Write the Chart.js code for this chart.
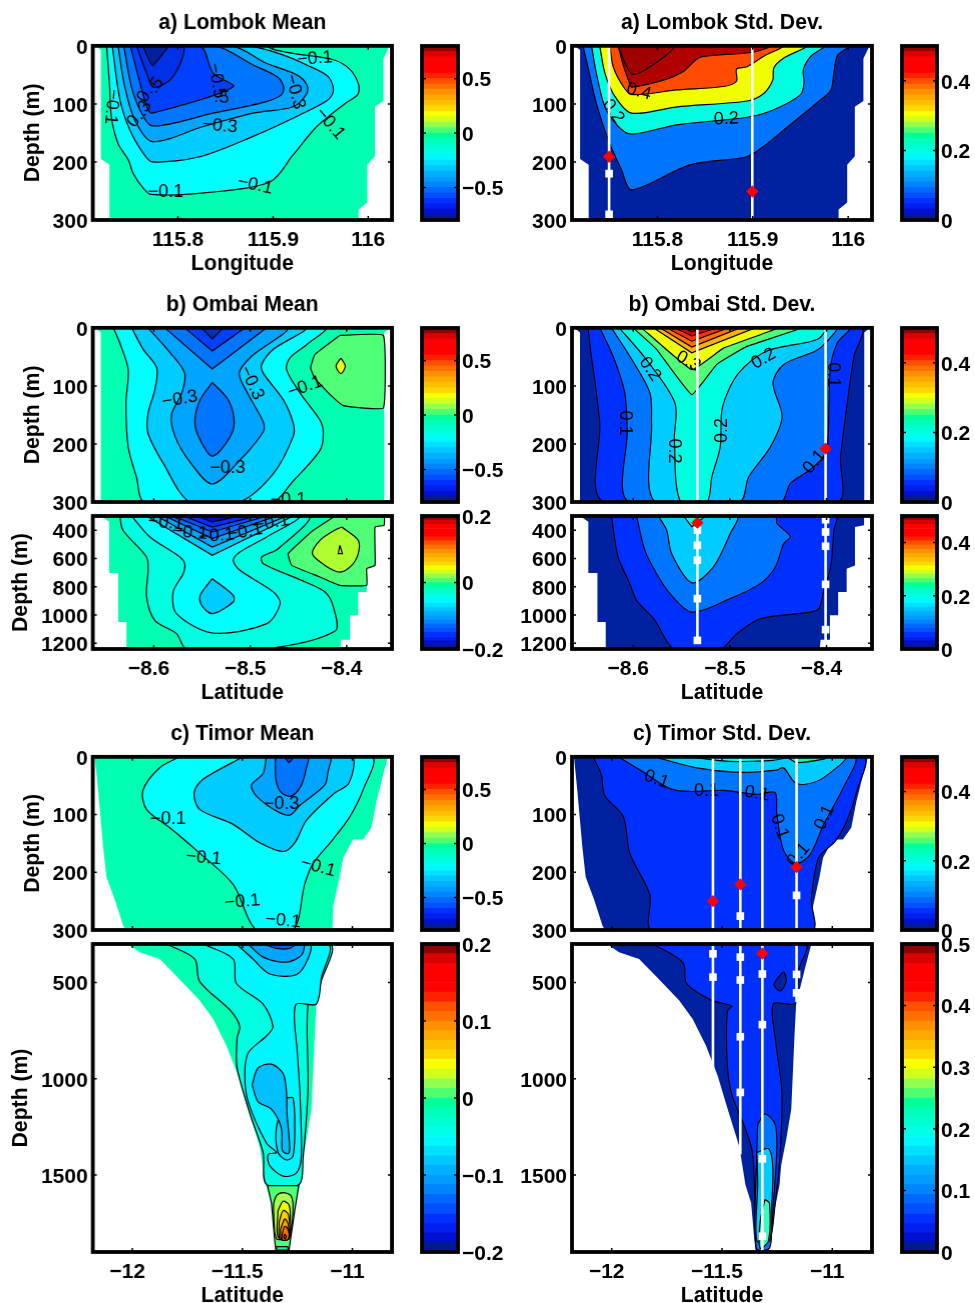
<!DOCTYPE html>
<html>
<head>
<meta charset="utf-8">
<title>Transport sections</title>
<script src="https://cdn.jsdelivr.net/npm/chart.js@4"></script>
<style>
html, body { margin: 0; background: #fff; overflow: hidden; }
canvas { position: absolute; }
</style>
</head>
<body>
<script>
// ---- tick values
const depthTicks = [0, 100, 200, 300];
const ombaiDeepTicks = [400, 600, 800, 1000, 1200];
const timorDeepTicks = [500, 1000, 1500];
const lonTicks = [115.8, 115.9, 116];
const ombaiLatTicks = [-8.6, -8.5, -8.4];
const timorLatTicks = [-12, -11.5, -11];
const meanCbarTicks = [-0.5, 0, 0.5];
const stdCbarTicks = [0, 0.2, 0.4];
const deepMeanCbarTicks = [-0.2, 0, 0.2];
const timorDeepMeanCbarTicks = [-0.2, -0.1, 0, 0.1, 0.2];
const timorDeepStdCbarTicks = [0, 0.1, 0.2, 0.3, 0.4, 0.5];

// colorbar steps, bottom to top
const cbarColors = ['#001a90','#0010d0','#0020f0','#0030ff','#0050ff','#0068ff','#0085ff','#009cff',
  '#00b0ff','#00c8ff','#00e0ff','#00f8ff','#00ffe8','#00ffd0','#00ffb8','#00ff98',
  '#50ff70','#90ff50','#d0ff20','#f8ff00','#ffd800','#ffc000','#ffa800','#ff9000',
  '#ff7000','#ff5000','#ff2000','#ff0000','#ff0000','#ff0000','#d80000','#900000'];

// ---- section outlines (longitude or latitude, depth)
const lombokOutline = [[115.713,0],[115.719,7],[115.719,195],[115.728,205],[115.728,300],[115.99,300],[115.99,282],[115.999,270],[115.999,205],[116.007,190],[116.007,105],[116.016,95],[116.016,22],[116.0225,0]];
const ombaiOutline = [[-8.661,0],[-8.655,8],[-8.655,300],[-8.361,300],[-8.361,8],[-8.355,0]];
const ombaiDeepOutline = [[-8.655,300],[-8.6464,340],[-8.6464,703],[-8.637,703],[-8.637,1049],[-8.6284,1049],[-8.6284,1240],[-8.407,1240],[-8.4062,1174],[-8.3965,1174],[-8.3965,1002],[-8.388,1002],[-8.388,837],[-8.3792,837],[-8.3792,672],[-8.3706,649],[-8.3706,378],[-8.3612,366],[-8.3612,300]];
const timorOutline = [[-12.171,0],[-12.156,58],[-12.133,156],[-12.118,208],[-12.08,247],[-12.042,292],[-12.03,300],[-11.091,300],[-11.088,260],[-11.058,208],[-11.042,175],[-10.997,143],[-10.952,143],[-10.914,123],[-10.891,78],[-10.861,32],[-10.838,0]];
const timorDeepOutline = [[-12.02,300],[-11.967,343],[-11.876,378],[-11.8,466],[-11.694,593],[-11.633,690],[-11.573,827],[-11.52,983],[-11.474,1158],[-11.421,1354],[-11.394,1549],[-11.368,1646],[-11.353,1841],[-11.348,1890],[-11.288,1890],[-11.282,1841],[-11.262,1685],[-11.239,1549],[-11.232,1451],[-11.209,1315],[-11.186,1158],[-11.171,768],[-11.164,612],[-11.126,437],[-11.095,300]];

// ---- a) Lombok mean
const lm1 = [[115.725,0],[115.728,64],[115.73,122],[115.737,168],[115.748,197],[115.753,220],[115.7635,245],[115.772,256],[115.83,253],[115.897,234],[115.921,188],[115.946,139],[115.976,99],[115.989,84],[115.99,67],[115.981,41],[115.9635,24],[115.921,13],[115.9,6],[115.8915,0]];
const lm2 = [[115.731,0],[115.739,93],[115.7495,145],[115.7635,185],[115.773,200],[115.823,191],[115.879,156],[115.928,119],[115.958,93],[115.9635,76],[115.958,53],[115.9355,33],[115.911,16],[115.874,0]];
const lm3 = [[115.737,0],[115.744,70],[115.7547,128],[115.773,165],[115.8266,139],[115.879,116],[115.921,105],[115.9355,82],[115.9355,67],[115.925,50],[115.893,30],[115.8565,0]];
const lm4 = [[115.743,0],[115.751,70],[115.76,110],[115.773,138],[115.837,116],[115.893,96],[115.909,84],[115.911,70],[115.904,53],[115.879,33],[115.839,0]];
const lm5 = [[115.75,0],[115.762,76],[115.7685,110],[115.773,116],[115.858,71],[115.837,47],[115.823,0]];
const lm6 = [[115.7565,0],[115.767,47],[115.774,71],[115.7915,59],[115.804,24],[115.805,0]];
const lm7 = [[115.763,0],[115.773,34],[115.79,0]];
const lmLabels = [[115.944,22,'−0.1',-5],[115.7767,68,'.5',-55],[115.7656,84,'0.',-60],[115.7642,108,'.3',-60],[115.7552,127,'0.',-50],[115.7302,105,'−0.1',95],[115.8407,60,'−0.5',80],[115.846,89,'.5',5],[115.923,79,'−0.3',75],[115.844,138,'−0.3',5],[115.96,134,'−0.1',50],[115.881,240,'−0.1',12],[115.787,251,'−0.1',0]];

// ---- a) Lombok std
const ls1 = [[115.722,0],[115.7274,38],[115.736,99],[115.7485,162],[115.7625,214],[115.773,248],[115.834,205],[115.894,191],[115.9115,173],[115.9325,145],[115.9712,93],[115.982,76],[115.985,47],[115.989,16],[116.001,0]];
const ls2 = [[115.731,0],[115.736,47],[115.745,105],[115.759,139],[115.773,152],[115.8205,136],[115.894,123],[115.922,110],[115.95,84],[115.9537,64],[115.953,41],[115.9607,18],[115.9747,0]];
const ls3 = [[115.7396,0],[115.745,47],[115.7555,87],[115.773,116],[115.8205,105],[115.894,95],[115.9115,82],[115.921,59],[115.922,38],[115.9325,21],[115.9555,0]];
const ls4 = [[115.7502,0],[115.7537,36],[115.7642,70],[115.773,84],[115.8205,76],[115.8695,70],[115.883,61],[115.883,40],[115.894,36],[115.9115,18],[115.9307,0]];
const ls5 = [[115.7589,0],[115.7642,33],[115.771,65],[115.773,71],[115.8063,59],[115.8273,44],[115.8431,21],[115.862,16],[115.9,11],[115.918,0]];
const ls6 = [[115.7589,0],[115.773,48],[115.7925,36],[115.817,0]];
const lsLabels = [[115.7807,79,'0.4',15],[115.7537,113,'0.2',55],[115.8722,126,'0.2',-2]];
const lsMoorings = [[115.7494,0,300],[115.8995,0,300]];
const lsSquares = [[115.7494,220],[115.7494,290]];
const lsDiamonds = [[115.7494,191],[115.8995,251]];

// ---- b) Ombai mean, upper
const om0 = [[-8.407,13],[-8.362,13],[-8.362,138],[-8.4035,134],[-8.419,112],[-8.433,87],[-8.4374,69],[-8.433,46]];
const omSpot = [[-8.406,52],[-8.4014,66],[-8.406,79],[-8.411,66]];
const om1 = [[-8.642,0],[-8.6353,26],[-8.6266,72],[-8.629,130],[-8.6266,205],[-8.618,257],[-8.6093,300],[-8.478,300],[-8.455,263],[-8.4277,211],[-8.4242,182],[-8.4277,159],[-8.4484,112],[-8.4623,72],[-8.459,52],[-8.4415,29],[-8.4225,0]];
const om2 = [[-8.623,0],[-8.611,37],[-8.597,69],[-8.599,107],[-8.606,147],[-8.606,182],[-8.59,234],[-8.5626,300],[-8.5114,300],[-8.476,251],[-8.4554,187],[-8.4554,164],[-8.4657,124],[-8.4865,78],[-8.488,63],[-8.476,37],[-8.4433,0]];
const om3 = [[-8.606,0],[-8.583,43],[-8.568,78],[-8.571,112],[-8.5817,150],[-8.578,187],[-8.5626,231],[-8.5394,269],[-8.5107,228],[-8.4865,179],[-8.4865,162],[-8.502,115],[-8.5114,78],[-8.4986,49],[-8.4623,0]];
const om4 = [[-8.5886,0],[-8.5394,71],[-8.483,0]];
const omDrop = [[-8.5394,94],[-8.552,124],[-8.5575,162],[-8.552,193],[-8.5394,221],[-8.5228,193],[-8.5166,164],[-8.5228,124]];
const om5 = [[-8.568,0],[-8.5394,40],[-8.5055,0]];
const om6 = [[-8.5505,0],[-8.5394,19],[-8.528,0]];
const omLabels = [[-8.573,123,'−0.3',-10],[-8.4986,95,'−0.3',65],[-8.4433,102,'−0.1',-20],[-8.5235,241,'−0.3',0],[-8.4605,296,'−0.1',0]];

// ---- b) Ombai mean, deep
const od0 = [[-8.412,300],[-8.4346,401],[-8.4606,566],[-8.457,649],[-8.4277,731],[-8.407,790],[-8.3792,790],[-8.3792,672],[-8.3706,649],[-8.3706,378],[-8.3612,366],[-8.3612,300]];
const odWarm = [[-8.4052,378],[-8.388,472],[-8.388,566],[-8.3948,649],[-8.407,696],[-8.4225,649],[-8.4356,566],[-8.4277,472],[-8.4138,406]];
const odSpot = [[-8.407,507],[-8.4045,566],[-8.4087,566]];
const od1 = [[-8.6353,300],[-8.632,401],[-8.6076,590],[-8.606,684],[-8.6076,872],[-8.599,1037],[-8.5765,1131],[-8.566,1240],[-8.4848,1240],[-8.412,1113],[-8.4138,943],[-8.4225,837],[-8.4467,755],[-8.4865,637],[-8.488,590],[-8.471,531],[-8.44,300]];
const od2 = [[-8.623,300],[-8.604,448],[-8.573,590],[-8.568,637],[-8.5696,708],[-8.58,837],[-8.5765,990],[-8.5394,1127],[-8.483,1061],[-8.469,920],[-8.476,837],[-8.5107,684],[-8.5176,613],[-8.5107,554],[-8.483,448],[-8.45,300]];
const odBlob = [[-8.5394,743],[-8.5176,861],[-8.5176,908],[-8.5394,990],[-8.5505,931],[-8.552,861]];
const odFan1 = [[-8.6076,300],[-8.5394,578],[-8.4554,300]];
const odFan2 = [[-8.597,300],[-8.5394,519],[-8.4623,300]];
const odFan3 = [[-8.5886,300],[-8.5394,460],[-8.4727,300]];
const odFan4 = [[-8.58,300],[-8.5394,413],[-8.483,300]];
const odFan5 = [[-8.5696,300],[-8.5394,378],[-8.4934,300]];
const odFan6 = [[-8.5557,300],[-8.5394,342],[-8.5107,300]];
const odLabels = [[-8.5875,349,'−0.1',5],[-8.5626,418,'−0.1',5],[-8.535,441,'−0.1',-5],[-8.5055,413,'−0.1',-10],[-8.478,349,'−0.1',-10]];

// ---- b) Ombai std, upper
const os1 = [[-8.6467,0],[-8.6433,49],[-8.6398,89],[-8.6346,164],[-8.6301,300],[-8.3889,300],[-8.3855,222],[-8.3768,107],[-8.3716,49],[-8.3647,0]];
const os2 = [[-8.6346,0],[-8.6208,49],[-8.6087,112],[-8.6062,176],[-8.6042,300],[-8.4478,300],[-8.4374,268],[-8.42,248],[-8.4062,228],[-8.3993,205],[-8.3976,136],[-8.3958,66],[-8.3889,26],[-8.3768,0]];
const os3 = [[-8.6225,0],[-8.6035,49],[-8.5827,112],[-8.581,164],[-8.5775,300],[-8.49,300],[-8.4806,257],[-8.4581,205],[-8.446,153],[-8.4554,95],[-8.4443,63],[-8.4114,40],[-8.401,26],[-8.3907,0]];
const os4 = [[-8.6145,0],[-8.5862,55],[-8.5567,130],[-8.5574,193],[-8.5509,300],[-8.5239,300],[-8.5187,257],[-8.51,205],[-8.5076,136],[-8.491,78],[-8.4616,40],[-8.4097,20],[-8.4017,0]];
const os5 = [[-8.6,0],[-8.5758,37],[-8.5394,115],[-8.5135,63],[-8.4824,32],[-8.427,0]];
const os6 = [[-8.5913,0],[-8.5394,72],[-8.5066,35],[-8.4512,0]];
const os7 = [[-8.5792,0],[-8.5394,43],[-8.4737,0]];
const os8 = [[-8.5723,0],[-8.5394,33],[-8.4893,0]];
const os9 = [[-8.5654,0],[-8.5394,23],[-8.5014,0]];
const os10 = [[-8.5567,0],[-8.5394,14],[-8.5135,0]];
const os11 = [[-8.548,0],[-8.5394,7],[-8.5256,0]];
const osLabels = [[-8.5429,58,'0.3',30],[-8.5827,71,'0.2',55],[-8.465,53,'0.2',-30],[-8.3934,81,'0.1',90],[-8.6087,164,'0.1',90],[-8.5083,177,'0.2',-90],[-8.5578,212,'0.2',90],[-8.4125,231,'0.1',-50]];
const osMoorings = [[-8.5336,0,300],[-8.401,0,300]];
const osDiamonds = [[-8.401,208]];

// ---- b) Ombai std, deep
const ob1 = [[-8.6225,300],[-8.6156,590],[-8.6035,778],[-8.5965,896],[-8.5775,1037],[-8.5578,1240],[-8.51,1240],[-8.4927,1132],[-8.4685,1026],[-8.4166,979],[-8.408,955],[-8.4028,825],[-8.3958,660],[-8.3924,401],[-8.3907,300]];
const ob2 = [[-8.5965,300],[-8.5879,543],[-8.5758,708],[-8.5619,849],[-8.5394,979],[-8.4997,884],[-8.4685,778],[-8.453,660],[-8.4443,496],[-8.4374,444],[-8.4512,354],[-8.453,300]];
const ob3 = [[-8.574,300],[-8.5654,401],[-8.5602,566],[-8.5394,771],[-8.517,660],[-8.4997,425],[-8.4927,300]];
const ob4 = [[-8.548,300],[-8.5394,375],[-8.525,300]];
const obMoorings = [[-8.5336,300,1179],[-8.401,300,1202]];
const obSquares = [[-8.5336,401],[-8.5336,507],[-8.5336,613],[-8.5336,884],[-8.5336,1179],[-8.401,326],[-8.401,413],[-8.401,514],[-8.401,783],[-8.401,1103]];
const obDiamonds = [[-8.5336,347]];

// ---- c) Timor mean, upper
const tm1 = [[-11.785,0],[-11.876,19],[-11.952,58],[-11.936,91],[-11.83,123],[-11.709,162],[-11.542,221],[-11.436,300],[-11.27,300],[-11.217,221],[-11.179,185],[-11.088,143],[-11.012,104],[-10.952,58],[-10.914,0]];
const tm2 = [[-11.497,0],[-11.679,39],[-11.72,62],[-11.694,91],[-11.542,117],[-11.421,149],[-11.315,164],[-11.262,149],[-11.209,110],[-11.088,65],[-11.015,45],[-11.005,0]];
const tm3 = [[-11.391,0],[-11.406,29],[-11.459,49],[-11.436,68],[-11.345,94],[-11.285,101],[-11.239,84],[-11.126,49],[-11.111,26],[-11.103,0]];
const tm4 = [[-11.35,0],[-11.348,39],[-11.323,62],[-11.277,68],[-11.232,49],[-11.209,19],[-11.202,0]];
const tm5 = [[-11.308,0],[-11.288,10],[-11.267,0]];
const tmLabels = [[-11.838,107,'−0.1',0],[-11.676,175,'−0.1',5],[-11.5,251,'−0.1',-5],[-11.315,284,'−0.1',5],[-11.156,191,'−0.1',15],[-11.323,81,'−0.3',0]];

// ---- c) Timor mean, deep
const td1 = [[-11.845,300],[-11.717,378],[-11.694,495],[-11.55,651],[-11.512,729],[-11.524,788],[-11.524,944],[-11.467,1178],[-11.406,1383],[-11.391,1549],[-11.242,1549],[-11.224,1412],[-11.202,1061],[-11.202,616],[-11.164,612],[-11.148,515],[-11.103,300]];
const td2 = [[-11.679,300],[-11.542,378],[-11.527,505],[-11.406,612],[-11.361,729],[-11.391,778],[-11.474,866],[-11.489,983],[-11.474,1119],[-11.391,1334],[-11.345,1383],[-11.383,1393],[-11.376,1451],[-11.315,1506],[-11.255,1490],[-11.232,1402],[-11.239,1061],[-11.25,866],[-11.258,616],[-11.164,612],[-11.141,476],[-11.111,300]];
const td3 = [[-11.3,1100],[-11.345,1250],[-11.338,1383],[-11.3,1422],[-11.27,1402],[-11.262,1256],[-11.27,1100]];
const td4 = [[-11.456,1032],[-11.429,944],[-11.368,924],[-11.315,973],[-11.3,1061],[-11.297,1178],[-11.285,1354],[-11.292,1389],[-11.318,1373],[-11.323,1256],[-11.368,1158],[-11.429,1119]];
const td5 = [[-11.527,300],[-11.452,378],[-11.376,456],[-11.255,460],[-11.202,378],[-11.194,300]];
const td6 = [[-11.474,300],[-11.406,368],[-11.3,394],[-11.232,359],[-11.224,300]];
const td7 = [[-11.406,300],[-11.345,323],[-11.285,323],[-11.262,300]];
const tipBase = [[-11.386,1555],[-11.244,1555],[-11.262,1685],[-11.282,1841],[-11.288,1890],[-11.348,1890],[-11.353,1841],[-11.368,1646]];
const tip1 = [[-11.358,1646],[-11.345,1607],[-11.315,1592],[-11.28,1607],[-11.27,1666],[-11.285,1812],[-11.345,1831],[-11.358,1685]];
const tip2 = [[-11.338,1685],[-11.315,1636],[-11.288,1656],[-11.282,1724],[-11.285,1822],[-11.338,1822]];
const tip3 = [[-11.333,1744],[-11.315,1685],[-11.291,1705],[-11.288,1832],[-11.33,1832]];
const tip4 = [[-11.327,1783],[-11.308,1728],[-11.292,1754],[-11.291,1832],[-11.323,1832]];
const tip5 = [[-11.32,1812],[-11.308,1767],[-11.292,1783],[-11.291,1832],[-11.318,1838]];
const tip6 = [[-11.312,1820],[-11.308,1808],[-11.3,1820],[-11.308,1832]];
const tipFoot = [[-11.345,1872],[-11.295,1872],[-11.29,1890],[-11.345,1890]];

// ---- c) Timor std, upper
const ts1 = [[-12.085,0],[-12.047,31],[-12.032,67],[-11.948,103],[-11.918,167],[-11.827,239],[-11.817,300],[-11.092,300],[-11.095,247],[-11.062,175],[-10.986,146],[-10.933,110],[-10.888,58],[-10.861,0]];
const ts2 = [[-11.971,0],[-11.858,26],[-11.736,55],[-11.645,60],[-11.494,58],[-11.342,65],[-11.259,62],[-11.252,97],[-11.221,162],[-11.164,185],[-11.1,169],[-11.039,117],[-10.948,52],[-10.903,0]];
const ts3 = [[-11.805,0],[-11.615,19],[-11.418,27],[-11.252,23],[-11.221,19],[-11.168,45],[-11.115,47],[-11.039,36],[-10.945,0]];
const ts4 = [[-11.645,0],[-11.464,8],[-11.267,6],[-11.198,0]];
const ts5 = [[-11.206,0],[-11.161,10],[-11.039,4],[-11.024,0]];
const tsLabels = [[-11.797,39,'0.1',20],[-11.57,60,'0.1',0],[-11.342,64,'0.1',10],[-11.239,121,'0.1',70],[-11.153,170,'0.1',-50],[-11.035,105,'0.1',-65]];
const tsMoorings = [[-11.541,0,300],[-11.417,0,300],[-11.317,0,300],[-11.162,0,300]];
const tsSquares = [[-11.417,276],[-11.162,240]];
const tsDiamonds = [[-11.541,250],[-11.417,221],[-11.162,191]];

// ---- c) Timor std, deep
const tb1 = [[-11.812,300],[-11.676,398],[-11.661,505],[-11.547,593],[-11.456,622],[-11.476,651],[-11.476,924],[-11.456,1080],[-11.395,1256],[-11.362,1383],[-11.35,1646],[-11.342,1841],[-11.285,1841],[-11.259,1646],[-11.236,1383],[-11.229,1061],[-11.259,788],[-11.267,612],[-11.168,608],[-11.153,437],[-11.123,300]];
const tbPatch = [[-11.259,495],[-11.221,446],[-11.209,495],[-11.236,544],[-11.264,515]];
const tb2 = [[-11.338,1237],[-11.305,1182],[-11.259,1237],[-11.252,1383],[-11.274,1744],[-11.285,1880],[-11.345,1880],[-11.342,1383]];
const tb3 = [[-11.342,1383],[-11.289,1363],[-11.27,1451],[-11.274,1646],[-11.285,1841],[-11.342,1841],[-11.338,1549]];
const tb4 = [[-11.305,1627],[-11.285,1646],[-11.289,1841],[-11.327,1880],[-11.327,1744]];
const tbMoorings = [[-11.541,300,963],[-11.417,300,1393],[-11.317,300,1900],[-11.162,300,602]];
const tbSquares = [[-11.541,351],[-11.541,472],[-11.417,368],[-11.417,487],[-11.417,782],[-11.417,1071],[-11.317,456],[-11.317,719],[-11.317,1416],[-11.317,1818],[-11.162,458],[-11.162,554]];
const tbDiamonds = [[-11.317,349]];

// ---- band colours
const navy = '#0022a0', royal = '#0030ff', azure = '#0075ff', sky = '#00a5ff', light = '#00ccff';
const cyan = '#00ffff', aqua = '#00ffe0', spring = '#00ffb0', green = '#50ff78';

const FONT = 'Liberation Sans';

function tickText(v) { return String(v).replace('-', '−'); }

// fills the closed contour polygons, the library's line element gives the path
const contourFill = {
  id: 'contourFill',
  beforeDatasetDraw(chart, args) {
    const ds = chart.data.datasets[args.index];
    if (!ds.bandFill) return;
    const ctx = chart.ctx, a = chart.chartArea;
    ctx.save();
    ctx.beginPath();
    ctx.rect(a.left, a.top, a.width, a.height);
    ctx.clip();
    ctx.beginPath();
    args.meta.dataset.path(ctx);
    ctx.closePath();
    ctx.fillStyle = ds.bandFill;
    ctx.fill();
    ctx.restore();
  },
  afterDatasetDraw(chart, args) {
    const ds = chart.data.datasets[args.index];
    if (!ds.contourLabels) return;
    const ctx = chart.ctx, a = chart.chartArea;
    ctx.save();
    ctx.beginPath();
    ctx.rect(a.left, a.top, a.width, a.height);
    ctx.clip();
    ctx.fillStyle = '#000';
    ctx.font = '18px "' + FONT + '"';
    ctx.textAlign = 'center';
    ctx.textBaseline = 'middle';
    ds.contourLabels.forEach(([x, y, text, angle]) => {
      ctx.save();
      ctx.translate(chart.scales.x.getPixelForValue(x), chart.scales.y.getPixelForValue(y));
      ctx.rotate(angle * Math.PI / 180);
      ctx.fillText(text, 0, 0);
      ctx.restore();
    });
    ctx.restore();
  }
};

// thick box and the small inward ticks
const heavyFrame = {
  id: 'heavyFrame',
  afterDraw(chart, args, opts) {
    const ctx = chart.ctx, a = chart.chartArea;
    ctx.save();
    ctx.strokeStyle = '#000';
    ctx.lineWidth = 1.5;
    (opts.xTicks || []).forEach(v => {
      const px = chart.scales.x.getPixelForValue(v);
      ctx.beginPath();
      ctx.moveTo(px, a.top); ctx.lineTo(px, a.top + 4);
      ctx.moveTo(px, a.bottom); ctx.lineTo(px, a.bottom - 4);
      ctx.stroke();
    });
    (opts.yTicks || []).forEach(v => {
      const py = chart.scales.y.getPixelForValue(v);
      ctx.beginPath();
      ctx.moveTo(a.left, py); ctx.lineTo(a.left + 4, py);
      ctx.moveTo(a.right, py); ctx.lineTo(a.right - 4, py);
      ctx.stroke();
    });
    ctx.lineWidth = 3.8;
    ctx.strokeRect(a.left, a.top, a.width, a.height);
    ctx.restore();
  }
};

function addCanvas(left, top, width, height) {
  const c = document.createElement('canvas');
  c.width = width; c.height = height;
  c.style.left = left + 'px'; c.style.top = top + 'px';
  c.style.width = width + 'px'; c.style.height = height + 'px';
  document.body.appendChild(c);
  return c;
}

function xy(pts) { return pts.map(([x, y]) => ({x, y})); }

function section(o) {
  const [x0, y0, x1, y1] = o.box;
  const topH = o.title ? 36 : 18;
  const bottomH = o.xLabel ? 57 : 18;
  const canvas = addCanvas(x0 - o.axisW, y0 - topH, o.axisW + (x1 - x0) + 24, topH + (y1 - y0) + bottomH);
  const datasets = [];
  o.bands.forEach(([pts, fill, tension], i) => {
    datasets.push({
      data: xy(pts.concat([pts[0]])), showLine: true, bandFill: fill,
      borderColor: '#000', borderWidth: i === 0 ? 0 : 1.2,
      pointRadius: 0, tension: tension === undefined ? 0.3 : tension, order: -i
    });
  });
  datasets.push({data: [], contourLabels: o.labels || [], order: -1000});
  (o.moorings || []).forEach(([x, top, bottom]) => {
    datasets.push({data: xy([[x, top], [x, bottom]]), showLine: true, borderColor: '#fff', borderWidth: 2.6, pointRadius: 0, order: -1001});
  });
  if (o.squares) datasets.push({data: xy(o.squares), showLine: false, pointStyle: 'rect', pointRadius: 5.4, backgroundColor: '#fff', borderWidth: 0, order: -1002});
  if (o.diamonds) datasets.push({data: xy(o.diamonds), showLine: false, pointStyle: 'rectRot', pointRadius: 6.2, backgroundColor: '#f00', borderWidth: 0, order: -1003});

  new Chart(canvas, {
    type: 'scatter',
    data: {datasets},
    plugins: [contourFill, heavyFrame],
    options: {
      responsive: false, animation: false, events: [], devicePixelRatio: 1,
      layout: {padding: {top: o.title ? 0 : 18, right: 24, bottom: o.xLabel ? 0 : 18, left: 0}},
      plugins: {
        legend: {display: false},
        tooltip: {enabled: false},
        title: {display: !!o.title, text: o.title, fullSize: false, color: '#000', padding: {top: 0, bottom: 10.4},
          font: {family: FONT, size: 21.2, weight: 'bold'}},
        heavyFrame: {xTicks: o.xTicks, yTicks: o.yTicks}
      },
      scales: {
        x: {
          type: 'linear', min: o.xRange[0], max: o.xRange[1], display: !!o.xLabel,
          grid: {display: false, drawTicks: false}, border: {display: false},
          afterFit: s => { s.height = o.xLabel ? 57 : 0; },
          afterBuildTicks: s => { s.ticks = o.xTicks.map(value => ({value})); },
          ticks: {color: '#000', padding: 8, labelOffset: o.xTicks[0] < 0 ? -5 : 0, autoSkip: false, maxRotation: 0, font: {family: FONT, size: 21, weight: 'bold'}, callback: tickText},
          title: {display: !!o.xLabel, text: o.xLabel, color: '#000', padding: 0, font: {family: FONT, size: 21.2, weight: 'bold'}}
        },
        y: {
          type: 'linear', reverse: true, min: o.yRange[0], max: o.yRange[1],
          grid: {display: false, drawTicks: false}, border: {display: false},
          afterFit: s => { s.width = o.axisW; },
          afterBuildTicks: s => { s.ticks = o.yTicks.map(value => ({value})); },
          ticks: {color: '#000', padding: 5, labelOffset: 2, autoSkip: false, font: {family: FONT, size: 21, weight: 'bold'}, callback: tickText},
          title: {display: !!o.yLabel, text: o.yLabel, color: '#000', padding: 0, font: {family: FONT, size: 21.2, weight: 'bold'}}
        }
      }
    }
  });
}

function colorbar(x0, y0, x1, y1, range, ticks) {
  const canvas = addCanvas(x0 - 6, y0 - 18, (x1 - x0) + 6 + 60, (y1 - y0) + 36);
  const step = (range[1] - range[0]) / cbarColors.length;
  const datasets = cbarColors.map((color, i) => ({
    data: [[range[0] + i * step, range[0] + (i + 1) * step]],
    backgroundColor: color, borderWidth: 0, barPercentage: 1, categoryPercentage: 1, grouped: false
  }));
  new Chart(canvas, {
    type: 'bar',
    data: {labels: ['c'], datasets},
    plugins: [heavyFrame],
    options: {
      responsive: false, animation: false, events: [], devicePixelRatio: 1,
      layout: {padding: {top: 18, bottom: 18, left: 6, right: 0}},
      plugins: {legend: {display: false}, tooltip: {enabled: false}, heavyFrame: {yTicks: ticks}},
      scales: {
        x: {display: false},
        y: {
          position: 'right', min: range[0], max: range[1],
          grid: {display: false, drawTicks: false}, border: {display: false},
          afterFit: s => { s.width = 60; },
          afterBuildTicks: s => { s.ticks = ticks.map(value => ({value})); },
          ticks: {color: '#000', padding: 4, labelOffset: 2, autoSkip: false, font: {family: FONT, size: 21, weight: 'bold'}, callback: tickText}
        }
      }
    }
  });
}

const LEFT = [93, 392], RIGHT = [572, 872];
const lonRange = [115.7105, 116.025], latO = [-8.6633, -8.353], latT = [-12.18, -10.82];

section({box: [LEFT[0], 46, LEFT[1], 220], axisW: 72.6, title: 'a) Lombok Mean', xLabel: 'Longitude', yLabel: 'Depth (m)',
  xRange: lonRange, yRange: [0, 300], xTicks: lonTicks, yTicks: depthTicks, labels: lmLabels,
  bands: [[lombokOutline, spring, 0], [lm1, cyan], [lm2, light], [lm3, sky], [lm4, azure], [lm5, '#0040ff'], [lm6, '#0030e8'], [lm7, navy, 0.1]]});
section({box: [RIGHT[0], 46, RIGHT[1], 220], axisW: 62, title: 'a) Lombok Std. Dev.', xLabel: 'Longitude',
  xRange: lonRange, yRange: [0, 300], xTicks: lonTicks, yTicks: depthTicks, labels: lsLabels,
  moorings: lsMoorings, squares: lsSquares, diamonds: lsDiamonds,
  bands: [[lombokOutline, navy, 0], [ls1, azure], [ls2, aqua], [ls3, '#f0ff00'], [ls4, '#ff4c00'], [ls5, '#b00000'], [ls6, '#a00000']]});

section({box: [LEFT[0], 328, LEFT[1], 502], axisW: 72.6, title: 'b) Ombai Mean', yLabel: 'Depth (m)',
  xRange: latO, yRange: [0, 300], xTicks: ombaiLatTicks, yTicks: depthTicks, labels: omLabels,
  bands: [[ombaiOutline, spring, 0], [om0, green, 0.1], [omSpot, '#e8ff10'], [om1, cyan], [om2, light], [om3, sky], [om4, azure, 0], [omDrop, azure], [om5, '#0040ff', 0], [om6, '#0030c8', 0]]});
section({box: [LEFT[0], 516, LEFT[1], 649], axisW: 84.6, xLabel: 'Latitude', yLabel: 'Depth (m)',
  xRange: latO, yRange: [300, 1240], xTicks: ombaiLatTicks, yTicks: ombaiDeepTicks, labels: odLabels,
  bands: [[ombaiDeepOutline, spring, 0], [od0, green, 0.1], [odWarm, '#adff30'], [odSpot, '#f0ff00', 0], [od1, aqua], [od2, cyan], [odBlob, light],
    [odFan1, light, 0], [odFan2, sky, 0], [odFan3, azure, 0], [odFan4, '#0050ff', 0], [odFan5, royal, 0], [odFan6, '#0010c0', 0]]});
section({box: [RIGHT[0], 328, RIGHT[1], 502], axisW: 62, title: 'b) Ombai Std. Dev.',
  xRange: latO, yRange: [0, 300], xTicks: ombaiLatTicks, yTicks: depthTicks, labels: osLabels,
  moorings: osMoorings, diamonds: osDiamonds,
  bands: [[ombaiOutline, navy, 0], [os1, royal], [os2, azure], [os3, light], [os4, aqua], [os5, green, 0.1], [os6, '#f0ff00', 0.1], [os7, '#ffb000', 0], [os8, '#ff7000', 0], [os9, '#ff3000', 0], [os10, '#e00000', 0], [os11, '#900000', 0]]});
section({box: [RIGHT[0], 516, RIGHT[1], 649], axisW: 74, xLabel: 'Latitude',
  xRange: latO, yRange: [300, 1240], xTicks: ombaiLatTicks, yTicks: ombaiDeepTicks,
  moorings: obMoorings, squares: obSquares, diamonds: obDiamonds,
  bands: [[ombaiDeepOutline, navy, 0], [ob1, royal], [ob2, azure], [ob3, light], [ob4, aqua, 0]]});

section({box: [LEFT[0], 757, LEFT[1], 930], axisW: 72.6, title: 'c) Timor Mean', yLabel: 'Depth (m)',
  xRange: latT, yRange: [0, 300], xTicks: timorLatTicks, yTicks: depthTicks, labels: tmLabels,
  bands: [[timorOutline, spring, 0], [tm1, cyan], [tm2, light], [tm3, sky], [tm4, azure], [tm5, '#0040ff', 0.1]]});
section({box: [LEFT[0], 944, LEFT[1], 1252], axisW: 84.6, xLabel: 'Latitude', yLabel: 'Depth (m)',
  xRange: latT, yRange: [300, 1900], xTicks: timorLatTicks, yTicks: timorDeepTicks,
  bands: [[timorDeepOutline, spring, 0], [td1, aqua], [td2, '#00f6ff'], [td3, '#00e0ff'], [td4, '#00c0ff'], [td5, light], [td6, sky], [td7, '#0060ff'],
    [tipBase, green, 0], [tip1, '#a8ff50'], [tip2, '#f0ff00'], [tip3, '#ffd000'], [tip4, '#ffa000'], [tip5, '#ff7000'], [tip6, '#ff3000'], [tipFoot, spring, 0]]});
section({box: [RIGHT[0], 757, RIGHT[1], 930], axisW: 62, title: 'c) Timor Std. Dev.',
  xRange: latT, yRange: [0, 300], xTicks: timorLatTicks, yTicks: depthTicks, labels: tsLabels,
  moorings: tsMoorings, squares: tsSquares, diamonds: tsDiamonds,
  bands: [[timorOutline, navy, 0], [ts1, royal], [ts2, azure], [ts3, light], [ts4, cyan, 0.2], [ts5, spring, 0.2]]});
section({box: [RIGHT[0], 944, RIGHT[1], 1252], axisW: 74, xLabel: 'Latitude',
  xRange: latT, yRange: [300, 1900], xTicks: timorLatTicks, yTicks: timorDeepTicks,
  moorings: tbMoorings, squares: tbSquares, diamonds: tbDiamonds,
  bands: [[timorDeepOutline, navy, 0], [tb1, royal], [tbPatch, navy], [tb2, azure], [tb3, light], [tb4, '#30ffc0']]});

colorbar(422, 46, 458, 220, [-0.8, 0.8], meanCbarTicks);
colorbar(902, 46, 937, 220, [0, 0.5], stdCbarTicks);
colorbar(422, 328, 458, 502, [-0.8, 0.8], meanCbarTicks);
colorbar(902, 328, 937, 502, [0, 0.5], stdCbarTicks);
colorbar(422, 516, 458, 649, [-0.2, 0.2], deepMeanCbarTicks);
colorbar(902, 516, 937, 649, [0, 0.5], stdCbarTicks);
colorbar(422, 757, 458, 930, [-0.8, 0.8], meanCbarTicks);
colorbar(902, 757, 937, 930, [0, 0.5], stdCbarTicks);
colorbar(422, 944, 458, 1252, [-0.2, 0.2], timorDeepMeanCbarTicks);
colorbar(902, 944, 937, 1252, [0, 0.5], timorDeepStdCbarTicks);
</script>
</body>
</html>
